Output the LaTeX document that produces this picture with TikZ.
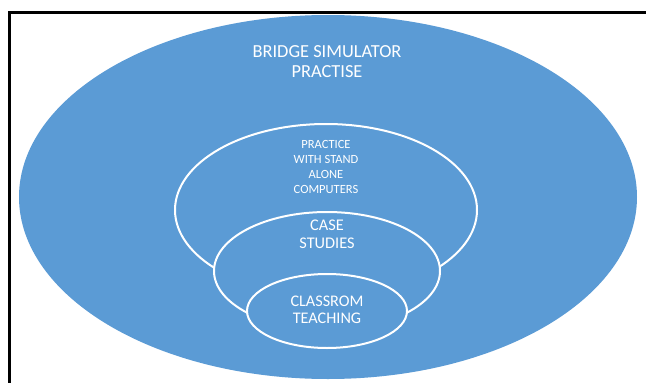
\documentclass[tikz,border=0pt]{standalone}
\usepackage{fontspec}
\setmainfont{Carlito}
\definecolor{ringblue}{HTML}{5B9BD5}
\begin{document}
\begin{tikzpicture}[x=1pt,y=-1pt,
  ring/.style={fill=ringblue,draw=white,line width=2pt},
  label/.style={text=white,align=center,inner sep=0pt}]
\useasboundingbox (0,0) rectangle (646,383);
\fill[white] (0,0) rectangle (646,383);
% partial frame along the top and left edges
\draw[line width=3pt] (9,383) -- (9,12) -- (646,12);
% nested ellipses, outermost first
\fill[ringblue] (328,197) ellipse [x radius=309,y radius=182];
\draw[ring] (326,210) ellipse [x radius=151,y radius=86];
\draw[ring] (327,271) ellipse [x radius=113,y radius=59];
\draw[ring] (327,311) ellipse [x radius=80,y radius=37];
% labels
\node[label,font=\fontsize{18.4}{20.5}\selectfont] (outer) at (327,61.5) {BRIDGE SIMULATOR\\PRACTISE};
\node[label,font=\fontsize{12.5}{15}\selectfont] (mid) at (326,167) {PRACTICE\\WITH STAND\\ALONE\\COMPUTERS};
\node[label,font=\fontsize{16.3}{18}\selectfont] (case) at (327,234) {CASE\\STUDIES};
\node[label,font=\fontsize{16.2}{17.5}\selectfont] (class) at (327,310) {CLASSROM\\TEACHING};
\end{tikzpicture}
\end{document}
